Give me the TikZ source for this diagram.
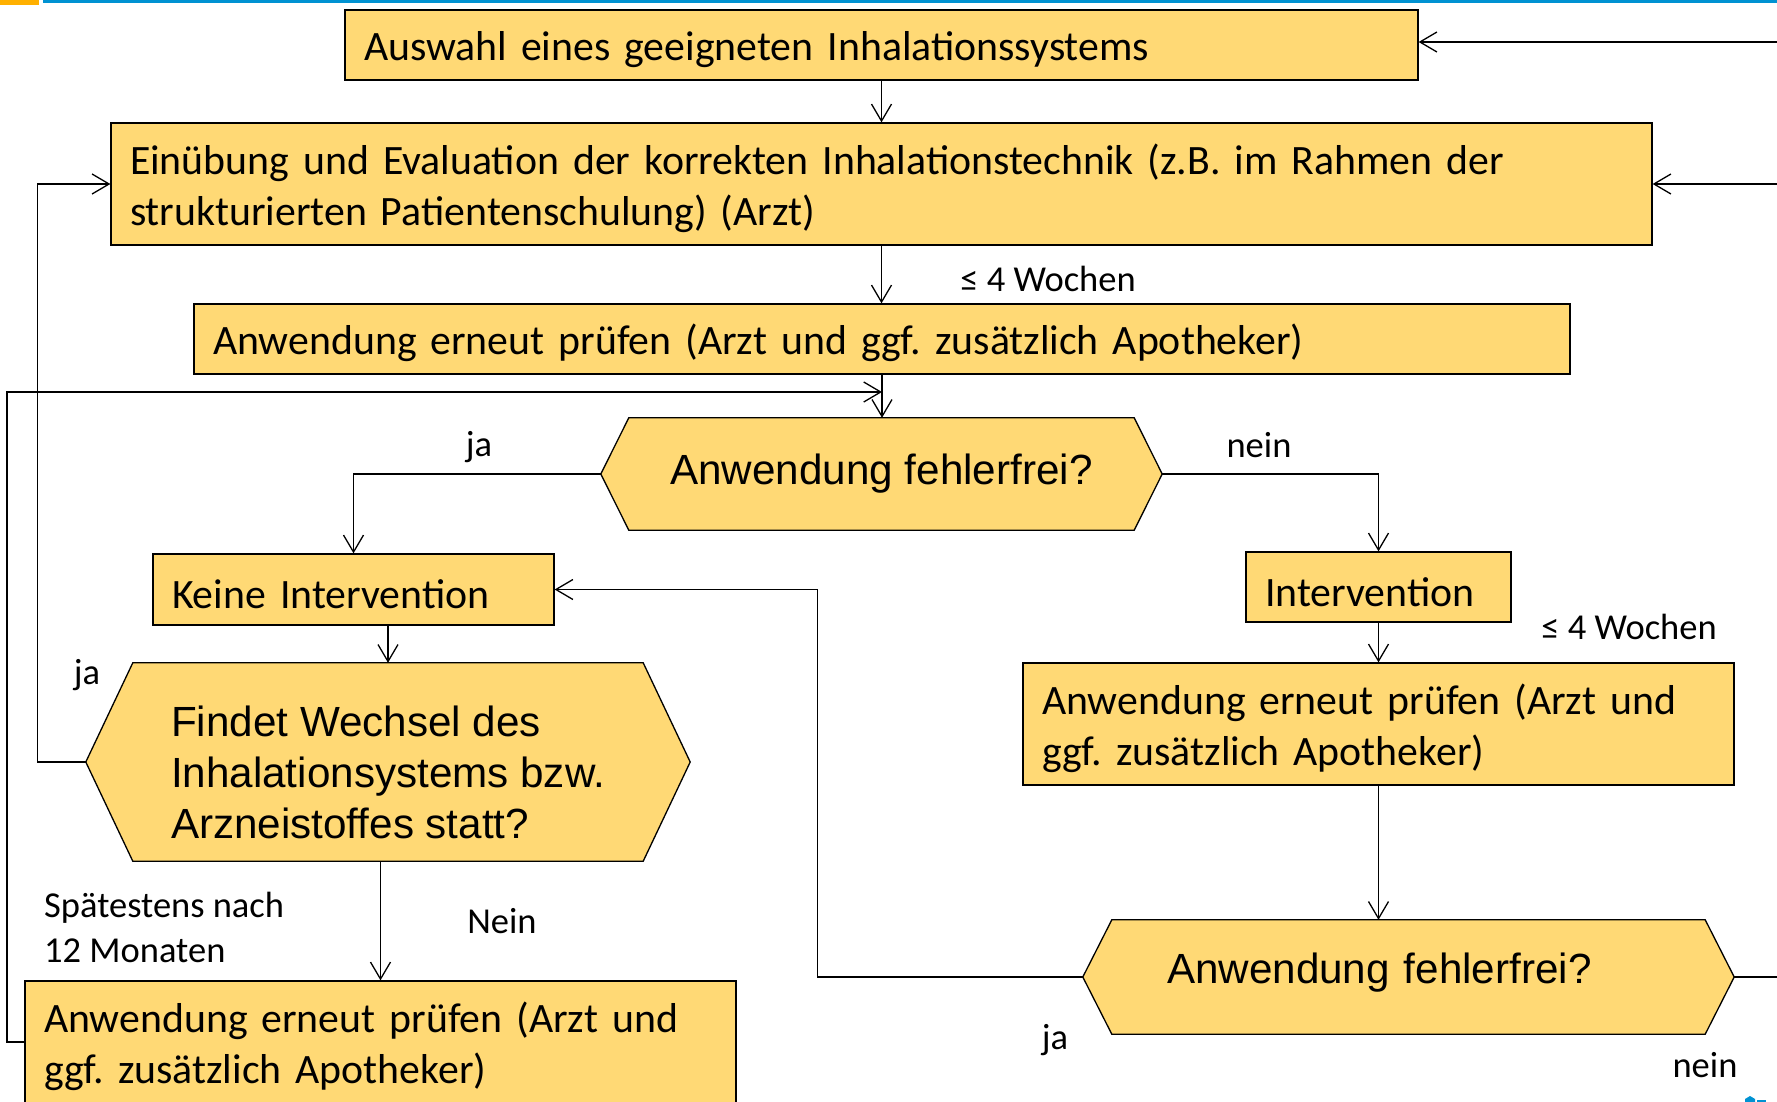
\documentclass[tikz,border=0pt]{standalone}
\usepackage{fontspec}
\setmainfont{Carlito}
\newfontfamily\hexfont{Liberation Sans}
\usetikzlibrary{arrows.meta,backgrounds}
\frenchspacing
\definecolor{boxfill}{RGB}{255,217,117}
\definecolor{topblue}{RGB}{0,146,210}
\definecolor{toporange}{RGB}{255,176,0}
\tikzset{
  box/.style={draw=black, fill=boxfill, line width=1.3pt, inner xsep=19pt, align=left,
    font=\fontsize{41.8}{51}\selectfont, minimum height=70pt,
    execute at begin node={\rule{0pt}{39pt}}},
  hexnode/.style={inner sep=0pt, font=\hexfont\fontsize{42.2}{51}\selectfont},
  hexpath/.style={draw=black, fill=boxfill, line width=1.3pt, line join=miter},
  arr/.style={line width=1.3pt, -{Straight Barb[length=17pt,width=20pt,line width=1.3pt]}},
  conn/.style={line width=1.3pt},
  lbl/.style={font=\fontsize{36.5}{45}\selectfont, inner sep=0pt, align=left},
}
% hexagon round a named node, #2 = length of the point
\newcommand\hexround[2]{\draw[hexpath] (#1.west) -- ([xshift=#2]#1.north west)
  -- ([xshift=-#2]#1.north east) -- (#1.east) -- ([xshift=-#2]#1.south east)
  -- ([xshift=#2]#1.south west) -- cycle;}
\begin{document}
\begin{tikzpicture}[x=1pt,y=-1pt]
  \useasboundingbox (0,0) rectangle (1777,1102);
  \fill[toporange] (0,0) rectangle (39,5);
  \fill[topblue] (43,0) rectangle (1777,3);
  \fill[topblue] (1745,1102) -- (1745,1099) -- (1750,1096) -- (1755,1099) -- (1755,1102) -- cycle;
  \fill[topblue] (1757,1100) rectangle (1766,1102);

  % boxes
  \node[box, text width=1035pt] (auswahl) at (881.5,45) {Auswahl eines geeigneten Inhalationssystems};
  \node[box, text width=1503pt, minimum height=122pt] (einueben) at (881.5,184)
    {Einübung und Evaluation der korrekten Inhalationstechnik (z.B. im Rahmen der\\strukturierten Patientenschulung) (Arzt)};
  \node[box, text width=1338pt] (pruefen) at (882,339) {Anwendung erneut prüfen (Arzt und ggf. zusätzlich Apotheker)};
  \node[box, text width=363pt, minimum height=71pt] (keine) at (353.5,589.5) {Keine Intervention};
  \node[box, text width=227pt] (interv) at (1378.5,587) {Intervention};
  \node[box, text width=673pt, minimum height=122pt] (pruefenB) at (1378.5,724)
    {Anwendung erneut prüfen (Arzt und\\ggf. zusätzlich Apotheker)};
  \node[box, text width=673pt, minimum height=122pt] (pruefenC) at (380.5,1042)
    {Anwendung erneut prüfen (Arzt und\\ggf. zusätzlich Apotheker)};

  % decisions
  \node[hexnode, minimum width=561pt, minimum height=112pt] (frageA) at (881.5,474) {Anwendung fehlerfrei?};
  \node[hexnode, minimum width=604pt, minimum height=198pt, align=left] (wechsel) at (388,762)
    {\rule{0pt}{51pt}Findet Wechsel des\\Inhalationsystems bzw.\\Arzneistoffes statt?};
  \node[hexnode, minimum height=114pt, inner xsep=84pt, text width=483pt, align=left] (frageB) at (1408.5,977)
    {Anwendung fehlerfrei?\rule[-18pt]{0pt}{18pt}};
  \begin{scope}[on background layer]
    \hexround{frageA}{28pt}
    \hexround{wechsel}{47pt}
    \hexround{frageB}{29pt}
  \end{scope}

  % free ends
  \coordinate (randA) at (1777,42);
  \coordinate (randB) at (1777,184);
  \coordinate (randC) at (1777,977);
  \coordinate (links) at (7,392);
  \coordinate (mitte) at (882,392);

  % connectors
  \draw[arr] (randA) -- (randA -| auswahl.east);
  \draw[arr] (randB) -- (einueben.east);
  \draw[arr] (auswahl.south) -- (auswahl.south |- einueben.north);
  \draw[arr] (einueben.south) -- (einueben.south |- pruefen.north);
  \draw[arr] (pruefen.south) -- (pruefen.south |- frageA.north);
  \draw[arr] (pruefenC.west) -| (links) -- (mitte);
  \draw[arr] (frageA.west) -| (keine.north);
  \draw[arr] (frageA.east) -| (interv.north);
  \draw[arr] (wechsel.north |- keine.south) -- (wechsel.north);
  \draw[arr] (pruefenC.north |- wechsel.south) -- (pruefenC.north);
  \draw[arr] (wechsel.west) -- ++(-48,0) |- (einueben.west);
  \draw[arr] (interv.south) -- (pruefenB.north);
  \draw[arr] (pruefenB.south) -- (pruefenB.south |- frageB.north);
  \draw[arr] (frageB.west) -- ++(-265,0) |- (keine.east);
  \draw[conn] (frageB.east) -- (randC);

  % labels
  \node[lbl] (wochenA) at (1048,279) {≤ 4 Wochen};
  \node[lbl] (wochenB) at (1629,627) {≤ 4 Wochen};
  \node[lbl] (jaA) at (479,447) {ja};
  \node[lbl] (neinA) at (1259,445) {nein};
  \node[lbl] (jaB) at (87,675) {ja};
  \node[lbl] (neinB) at (502,921) {Nein};
  \node[lbl] (jaC) at (1055,1040) {ja};
  \node[lbl] (neinC) at (1705,1065) {nein};
  \node[lbl, anchor=west] (spaet) at (44,927) {Spätestens nach\\12 Monaten};
\end{tikzpicture}
\end{document}
